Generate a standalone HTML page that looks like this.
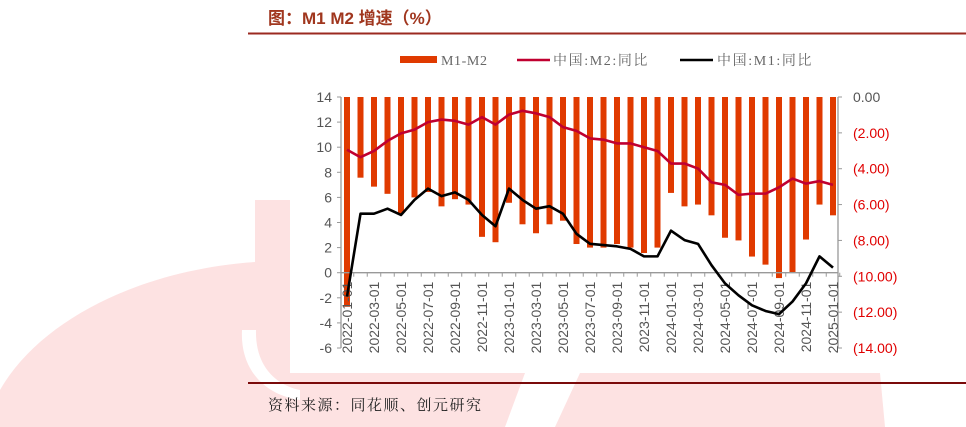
<!DOCTYPE html>
<html><head><meta charset="utf-8"><style>
body{margin:0;background:#fff;}
svg{display:block;font-family:"Liberation Sans","Noto Sans CJK SC",sans-serif;}
</style></head><body>
<svg id="c" width="966" height="427" viewBox="0 0 966 427">
<g>
<path d="M0,427 L0,390 C40,320 140,270 255,262 L255,200 L290,200 L290,427 Z" fill="#fde2e2"/>
<path d="M290,373 L525,373 L505,427 L290,427 Z" fill="#fde2e2"/>
<path d="M580,373 L880,373 L885,427 L555,427 Z" fill="#fde2e2"/>
<path d="M242,330 C240,370 265,395 300,400 L300,390 C275,385 255,365 256,330 Z" fill="#fff"/>
</g>
<rect x="290" y="82" width="553" height="291" fill="#fff"/>
<text x="268" y="24" font-size="17" font-weight="bold" fill="#a0361e">图：M1 M2 增速（%）</text>
<line x1="248" y1="33.5" x2="966" y2="33.5" stroke="#9b2a20" stroke-width="2"/>
<line x1="248" y1="383" x2="966" y2="383" stroke="#7a0a0a" stroke-width="2"/>
<text x="268" y="410" font-size="15" letter-spacing="1.5" fill="#222" font-family="'Noto Serif CJK SC',serif">资料来源：同花顺、创元研究</text>
<g>
<rect x="400" y="56" width="37" height="7" fill="#e03a00"/>
<text x="441" y="65" font-size="14" letter-spacing="0.6" fill="#666" font-family="'Liberation Serif',serif">M1-M2</text>
<line x1="517" y1="60" x2="550" y2="60" stroke="#c00030" stroke-width="2.5"/>
<text x="553" y="65" font-size="14" letter-spacing="1.6" fill="#666" font-family="'Liberation Serif','Noto Serif CJK SC',serif">中国:M2:同比</text>
<line x1="680" y1="60" x2="713" y2="60" stroke="#000" stroke-width="2.5"/>
<text x="717" y="65" font-size="14" letter-spacing="1.6" fill="#666" font-family="'Liberation Serif','Noto Serif CJK SC',serif">中国:M1:同比</text>
</g>
<g id="g"></g>
</svg>
<script>
const categories=["2022-01","2022-02","2022-03","2022-04","2022-05","2022-06","2022-07","2022-08","2022-09","2022-10","2022-11","2022-12","2023-01","2023-02","2023-03","2023-04","2023-05","2023-06","2023-07","2023-08","2023-09","2023-10","2023-11","2023-12","2024-01","2024-02","2024-03","2024-04","2024-05","2024-06","2024-07","2024-08","2024-09","2024-10","2024-11","2024-12","2025-01"];
const m2=[9.8,9.2,9.7,10.5,11.1,11.4,12.0,12.2,12.1,11.8,12.4,11.8,12.6,12.9,12.7,12.4,11.6,11.3,10.7,10.6,10.3,10.3,10.0,9.7,8.7,8.7,8.3,7.2,7.0,6.2,6.3,6.3,6.8,7.5,7.1,7.3,7.0];
const m1=[-1.9,4.7,4.7,5.1,4.6,5.8,6.7,6.1,6.4,5.8,4.6,3.7,6.7,5.8,5.1,5.3,4.7,3.1,2.3,2.2,2.1,1.9,1.3,1.3,3.35,2.6,2.3,0.6,-0.85,-1.8,-2.6,-3.05,-3.3,-2.3,-0.85,1.3,0.4];
const diff=[-11.7,-4.5,-5.0,-5.4,-6.5,-5.6,-5.3,-6.1,-5.7,-6.0,-7.8,-8.1,-5.9,-7.1,-7.6,-7.1,-6.9,-8.2,-8.4,-8.4,-8.2,-8.4,-8.7,-8.4,-5.35,-6.1,-6.0,-6.6,-7.85,-8.0,-8.9,-9.35,-10.1,-9.8,-7.95,-6.0,-6.6];
const leftTicks=[14,12,10,8,6,4,2,0,-2,-4,-6];
const rightTicks=[0,-2,-4,-6,-8,-10,-12,-14];
const rightLabels=["0.00","(2.00)","(4.00)","(6.00)","(8.00)","(10.00)","(12.00)","(14.00)"];
const NS="http://www.w3.org/2000/svg",g=document.getElementById('g');
const X0=347,DX=13.5,T=97,B=348,LX=341,RX=838;
const x=i=>X0+i*DX, yl=v=>T+(14-v)*(B-T)/20, yr=v=>T+(-v)*(B-T)/14;
function mk(t,a,p){const e=document.createElementNS(NS,t);for(const k in a)e.setAttribute(k,a[k]);(p||g).appendChild(e);return e;}
diff.forEach((v,i)=>{const e=mk('rect',{x:x(i)-3,y:yr(0),width:6,height:yr(v)-yr(0),fill:'#e03a00'});

});
let a=mk('line',{x1:LX,y1:T,x2:LX,y2:B,stroke:'#999',"stroke-width":1.3});


a=mk('line',{x1:RX,y1:T,x2:RX,y2:B,stroke:'#999',"stroke-width":1.3});


a=mk('line',{x1:LX,y1:yl(0),x2:RX,y2:yl(0),stroke:'#999',"stroke-width":1.3});


leftTicks.forEach(v=>{mk('line',{x1:LX-4,y1:yl(v),x2:LX,y2:yl(v),stroke:'#999'});
const t=mk('text',{x:LX-9,y:yl(v)+5,"font-size":14,fill:'#555',"text-anchor":'end'});t.textContent=v;

});
rightTicks.forEach((v,i)=>{mk('line',{x1:RX,y1:yr(v),x2:RX+4,y2:yr(v),stroke:'#999'});
const t=mk('text',{x:RX+15,y:yr(v)+5,"font-size":14,fill:i==0?'#555':'#e00000'});t.textContent=rightLabels[i];

});
categories.forEach((c,i)=>{mk('line',{x1:x(i)+DX/2,y1:yl(0),x2:x(i)+DX/2,y2:yl(0)+4,stroke:'#999'});
if(i%2==0){const t=mk('text',{x:0,y:0,"font-size":14,fill:'#555',"text-anchor":'end',transform:`translate(${x(i)+5},${yl(0)+9}) rotate(-90)`});t.textContent=c+'-01';

}});
let l=mk('polyline',{points:m2.map((v,i)=>x(i)+','+yl(v)).join(' '),fill:'none',stroke:'#c00030',"stroke-width":2.6,"stroke-linejoin":'round'});


l=mk('polyline',{points:m1.map((v,i)=>x(i)+','+yl(v)).join(' '),fill:'none',stroke:'#000',"stroke-width":2.6,"stroke-linejoin":'round'});


</script>
</body></html>
